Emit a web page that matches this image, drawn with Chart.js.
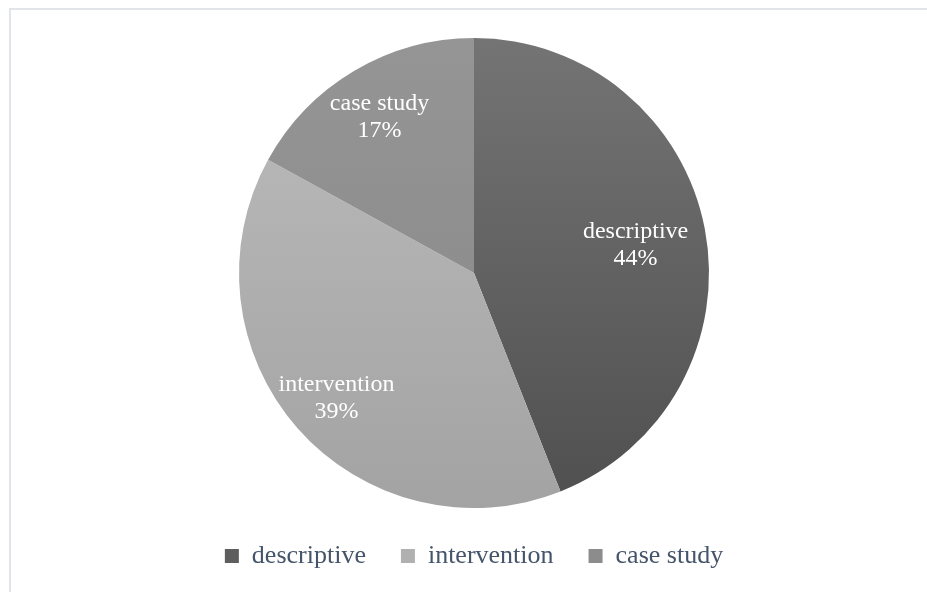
<!DOCTYPE html>
<html>
<head>
<meta charset="utf-8">
<script src="https://cdn.jsdelivr.net/npm/chart.js@4.4.0/dist/chart.umd.min.js"></script>
<style>
  html, body { margin: 0; padding: 0; background: #fff; }
  .wrap { position: relative; width: 927px; height: 592px; overflow: hidden; }
  .frame { position: absolute; left: 9px; top: 8px; width: 1000px; height: 700px;
           border-top: 2px solid #e1e5ea; border-left: 2px solid #e1e5ea; }
  canvas { position: absolute; left: 0; top: 0; }
</style>
</head>
<body>
<div class="wrap">
  <div class="frame"></div>
  <canvas id="myChart" width="927" height="592"></canvas>
</div>
<script>
let categories = ['descriptive', 'intervention', 'case study']
let shares = [44, 39, 17]
// top / bottom tone of each slice's shading
let topColors = ['#747474', '#bcbcbc', '#959595']
let bottomColors = ['#4f4f4f', '#a3a3a3', '#878787']
let legendColors = ['#5e5e5e', '#b0b0b0', '#8c8c8c']
let labelRadius = [0.70, 0.78, 0.79]

let sliceFill = (context) => {
    let chart = context.chart
    let area = chart.chartArea
    if (!area) return topColors[context.dataIndex]
    let g = chart.ctx.createLinearGradient(0, area.top, 0, area.bottom)
    g.addColorStop(0, topColors[context.dataIndex])
    g.addColorStop(1, bottomColors[context.dataIndex])
    return g
}

const sliceLabels = {
    id: 'sliceLabels',
    afterDatasetsDraw: (chart) => {
        const {ctx} = chart
        let meta = chart.getDatasetMeta(0)
        ctx.save()
        ctx.fillStyle = '#ffffff'
        ctx.font = '24px "Liberation Serif", "Times New Roman", serif'
        ctx.textAlign = 'center'
        ctx.textBaseline = 'middle'
        meta.data.forEach((arc, i) => {
            let mid = (arc.startAngle + arc.endAngle) / 2
            let r = arc.outerRadius * labelRadius[i]
            let x = arc.x + Math.cos(mid) * r
            let y = arc.y + Math.sin(mid) * r + 4
            ctx.fillText(categories[i], x, y - 14)
            ctx.fillText(shares[i] + '%', x, y + 13)
        })
        ctx.restore()
    }
}

new Chart(document.getElementById('myChart'), {
    type: 'pie',
    data: {
        labels: categories,
        datasets: [{
            data: shares,
            backgroundColor: sliceFill,
            borderWidth: 0
        }]
    },
    options: {
        responsive: false,
        animation: false,
        layout: {
            padding: { top: 38, bottom: 13, left: 21, right: 0 }
        },
        plugins: {
            tooltip: { enabled: false },
            legend: {
                position: 'bottom',
                labels: {
                    color: '#44546a',
                    boxWidth: 14,
                    boxHeight: 14,
                    padding: 35,
                    font: { family: '"Liberation Serif", "Times New Roman", serif', size: 26 },
                    generateLabels: (chart) => categories.map((c, i) => ({
                        text: c,
                        fillStyle: legendColors[i],
                        fontColor: '#44546a',
                        strokeStyle: 'rgba(0,0,0,0)',
                        lineWidth: 0,
                        index: i
                    }))
                }
            }
        }
    },
    plugins: [sliceLabels]
});
</script>
</body>
</html>
